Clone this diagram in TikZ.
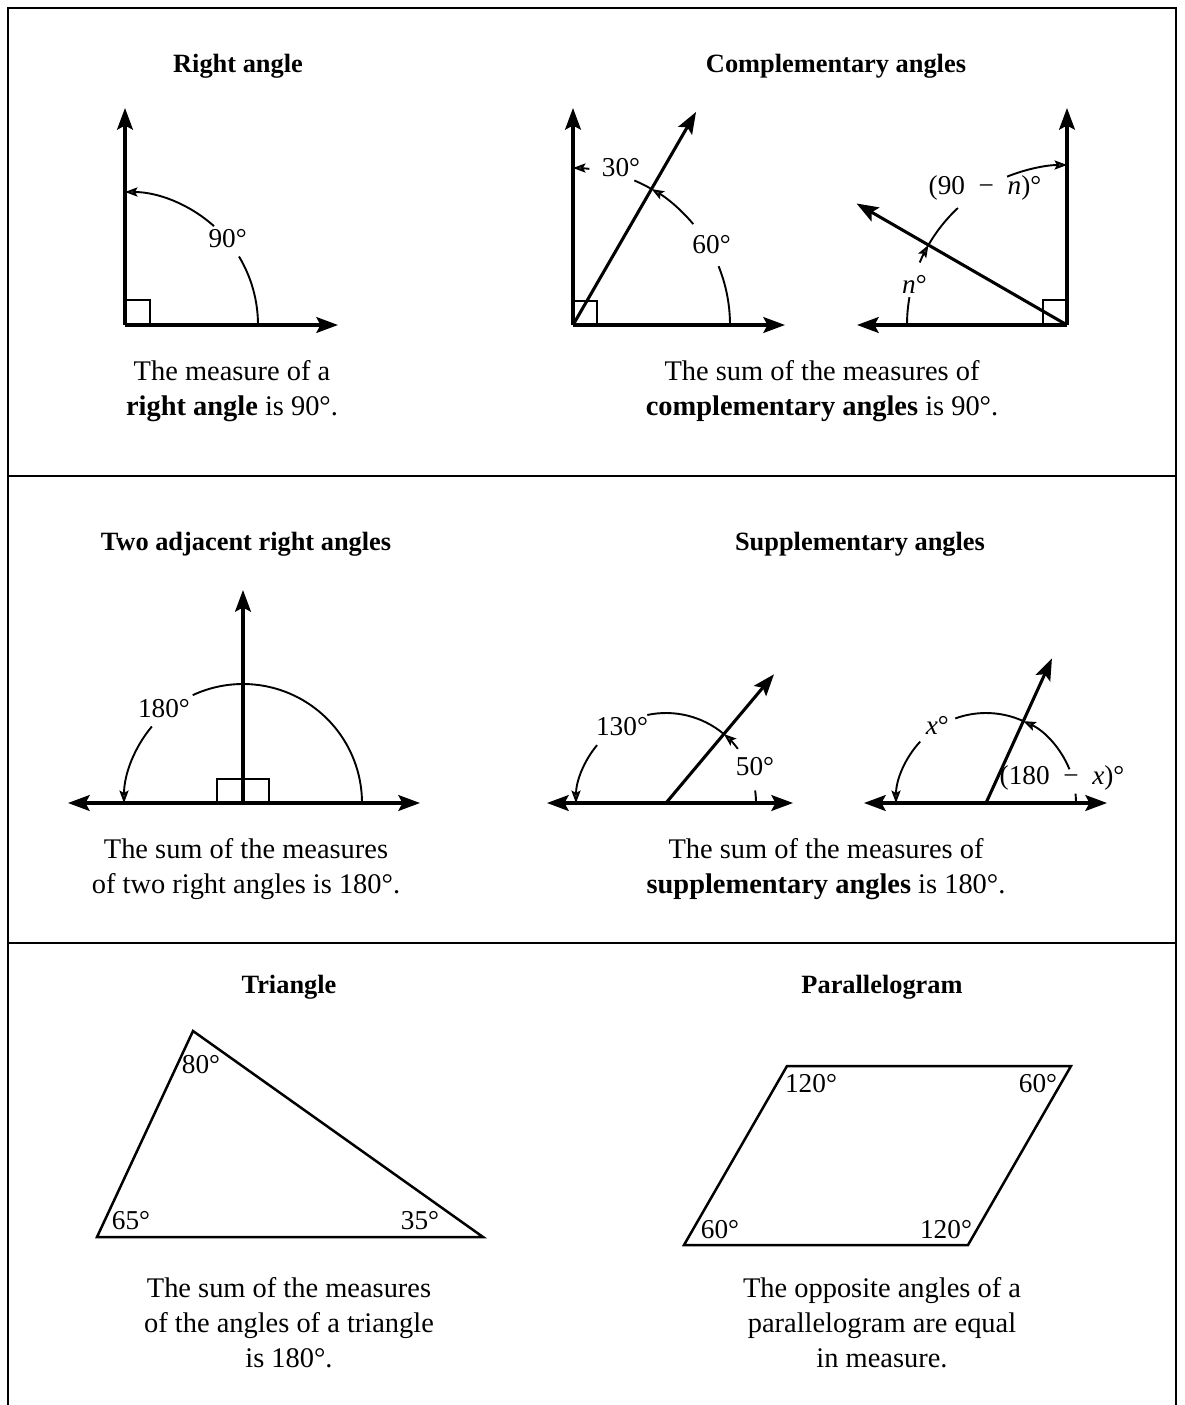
\documentclass[tikz,border=0pt]{standalone}
\usepackage{fontspec}
\setmainfont{Liberation Serif}
\usepackage{tikz}
\usetikzlibrary{arrows.meta,calc}
\tikzset{
  rayline/.style={-{Stealth[length=2.6mm,width=1.9mm,inset=0.5mm]}, line width=1.05pt},
  lineline/.style={{Stealth[length=2.6mm,width=1.9mm,inset=0.5mm]}-{Stealth[length=2.6mm,width=1.9mm,inset=0.5mm]}, line width=1.05pt},
  anglearc/.style={line width=0.65pt},
  arcarrow/.style={anglearc, -{Stealth[length=1.5mm,width=1.1mm,inset=0.3mm,fill=gray!70!black]}},
  rightmark/.style={line width=0.55pt},
  anglelabel/.style={font=\fontsize{9.3}{11}\selectfont, inner sep=1pt}
}

\begin{document}
\begin{tikzpicture}[
  x=0.012cm, y=0.012cm,
  heading/.style={font=\bfseries\fontsize{9}{11}\selectfont, inner sep=1pt},
  caption/.style={align=center, font=\fontsize{9.7}{12}\selectfont, inner sep=1pt},
  figline/.style={line width=0.85pt, line join=miter},
  frameline/.style={line width=0.6pt}
]
\useasboundingbox (0,0) rectangle (1184,-1405);

% Frame and dividers
\draw[frameline] (8,-1405) -- (8,-8) -- (1176,-8) -- (1176,-1405);
\draw[frameline] (8,-476) -- (1176,-476);
\draw[frameline] (8,-943) -- (1176,-943);

% Right angle
\node[heading] at (238,-66) (hright) {Right angle};
\coordinate (ra) at (125,-325);
\coordinate (raup) at (125,-108);
\coordinate (raright) at (338,-325);
\draw[rayline] (ra) -- (raup);
\draw[rayline] (ra) -- (raright);
\draw[rightmark] ($(ra)+(0,25)$) -| ($(ra)+(25,0)$);
\draw[anglearc] ($(ra)+(0:133)$) arc[start angle=0, end angle=31, radius=133];
\draw[arcarrow] ($(ra)+(48:133)$) arc[start angle=48, end angle=90, radius=133];
\node[anglelabel] at ($(ra)+(40:134)$) (l90) {90°};
\node[caption] at (232,-391) (cright) {The measure of a\\\textbf{right angle} is 90°.};

% Complementary angles, left
\node[heading] at (836,-66) (hcomp) {Complementary angles};
\coordinate (ca) at (573,-325);
\coordinate (caup) at (573,-108);
\coordinate (caright) at (785,-325);
\coordinate (caray) at ($(ca)+(60:246)$);
\draw[rayline] (ca) -- (caup);
\draw[rayline] (ca) -- (caright);
\draw[rayline] (ca) -- (caray);
\draw[rightmark] ($(ca)+(0,24)$) -| ($(ca)+(24,0)$);
\draw[anglearc] ($(ca)+(0:157)$) arc[start angle=0, end angle=22, radius=157];
\draw[arcarrow] ($(ca)+(40:157)$) arc[start angle=40, end angle=60, radius=157];
\draw[anglearc] ($(ca)+(60:157)$) arc[start angle=60, end angle=67, radius=157];
\draw[arcarrow] ($(ca)+(84:157)$) arc[start angle=84, end angle=90, radius=157];
\node[anglelabel] at ($(ca)+(30:160)$) (l60) {60°};
\node[anglelabel] at (621,-168) (l30) {30°};

% Complementary angles, right
\coordinate (cb) at (1067,-325);
\coordinate (cbup) at (1067,-108);
\coordinate (cbleft) at (857,-325);
\coordinate (cbray) at ($(cb)+(150:243)$);
\draw[rayline] (cb) -- (cbup);
\draw[rayline] (cb) -- (cbleft);
\draw[rayline] (cb) -- (cbray);
\draw[rightmark] ($(cb)+(0,25)$) -| ($(cb)+(-24,0)$);
\draw[anglearc] ($(cb)+(180:160)$) arc[start angle=180, end angle=170, radius=160];
\draw[arcarrow] ($(cb)+(157:160)$) arc[start angle=157, end angle=150, radius=160];
\draw[anglearc] ($(cb)+(150:160)$) arc[start angle=150, end angle=133, radius=160];
\draw[arcarrow] ($(cb)+(112:160)$) arc[start angle=112, end angle=90, radius=160];
\node[anglelabel] at ($(cb)+(165:158)$) (ln) {\textit{n}°};
\node[anglelabel] at (985,-188) (l90n) {(90\enspace−\enspace\textit{n})°};
\node[caption] at (822,-391) (ccomp) {The sum of the measures of\\\textbf{complementary angles} is 90°.};

% Two adjacent right angles
\node[heading] at (246,-544) (hadj) {Two adjacent right angles};
\coordinate (ta) at (243,-803);
\coordinate (taleft) at (68,-803);
\coordinate (taright) at (420,-803);
\coordinate (taup) at (243,-590);
\draw[lineline] (taleft) -- (taright);
\draw[rayline] (ta) -- (taup);
\draw[rightmark] ($(ta)+(-26,0)$) |- ($(ta)+(26,24)$) -- ($(ta)+(26,0)$);
\draw[anglearc] ($(ta)+(0:119)$) arc[start angle=0, end angle=115, radius=119];
\draw[arcarrow] ($(ta)+(140:119)$) arc[start angle=140, end angle=180, radius=119];
\node[anglelabel] at ($(ta)+(130:123)$) (l180) {180°};
\node[caption] at (246,-869) (cadj) {The sum of the measures\\of two right angles is 180°.};

% Supplementary angles, left
\node[heading] at (860,-544) (hsupp) {Supplementary angles};
\coordinate (sa) at (666,-803);
\coordinate (saleft) at (547,-803);
\coordinate (saright) at (793,-803);
\coordinate (saray) at ($(sa)+(50:168)$);
\draw[lineline] (saleft) -- (saright);
\draw[rayline] (sa) -- (saray);
\draw[anglearc] ($(sa)+(0:90)$) arc[start angle=0, end angle=8, radius=90];
\draw[arcarrow] ($(sa)+(37:90)$) arc[start angle=37, end angle=50, radius=90];
\draw[anglearc] ($(sa)+(50:90)$) arc[start angle=50, end angle=102, radius=90];
\draw[arcarrow] ($(sa)+(140:90)$) arc[start angle=140, end angle=180, radius=90];
\node[anglelabel] at ($(sa)+(22:96)$) (l50) {50°};
\node[anglelabel] at ($(sa)+(120:88)$) (l130) {130°};

% Supplementary angles, right
\coordinate (sb) at (986,-803);
\coordinate (sbleft) at (864,-803);
\coordinate (sbright) at (1107,-803);
\coordinate (sbray) at ($(sb)+(65.5:159)$);
\draw[lineline] (sbleft) -- (sbright);
\draw[rayline] (sb) -- (sbray);
\draw[anglearc] ($(sb)+(0:90)$) arc[start angle=0, end angle=6, radius=90];
\draw[arcarrow] ($(sb)+(22:90)$) arc[start angle=22, end angle=65.5, radius=90];
\draw[anglearc] ($(sb)+(65.5:90)$) arc[start angle=65.5, end angle=110, radius=90];
\draw[arcarrow] ($(sb)+(137:90)$) arc[start angle=137, end angle=180, radius=90];
\node[anglelabel] at ($(sb)+(122:92)$) (lx) {\textit{x}°};
\node[anglelabel] at (1062,-778) (l180x) {(180\enspace−\enspace\textit{x})°};
\node[caption] at (826,-869) (csupp) {The sum of the measures of\\\textbf{supplementary angles} is 180°.};

% Triangle
\node[heading] at (289,-987) (htri) {Triangle};
\coordinate (tA) at (193,-1031);
\coordinate (tB) at (97,-1237);
\coordinate (tC) at (483,-1237);
\draw[figline] (tA) -- (tB) -- (tC) -- cycle;
\node[anglelabel] at (201,-1065) (l80) {80°};
\node[anglelabel] at (131,-1221) (l65) {65°};
\node[anglelabel] at (420,-1221) (l35) {35°};
\node[caption] at (289,-1323) (ctri) {The sum of the measures\\of the angles of a triangle\\is 180°.};

% Parallelogram
\node[heading] at (882,-987) (hpar) {Parallelogram};
\coordinate (pA) at (684,-1245);
\coordinate (pB) at (968,-1245);
\coordinate (pC) at (1071,-1066);
\coordinate (pD) at (787,-1066);
\draw[figline] (pA) -- (pB) -- (pC) -- (pD) -- cycle;
\node[anglelabel] at (811,-1084) (l120a) {120°};
\node[anglelabel] at (1038,-1084) (l60a) {60°};
\node[anglelabel] at (720,-1230) (l60b) {60°};
\node[anglelabel] at (946,-1230) (l120b) {120°};
\node[caption] at (882,-1323) (cpar) {The opposite angles of a\\parallelogram are equal\\in measure.};
\end{tikzpicture}
\end{document}
